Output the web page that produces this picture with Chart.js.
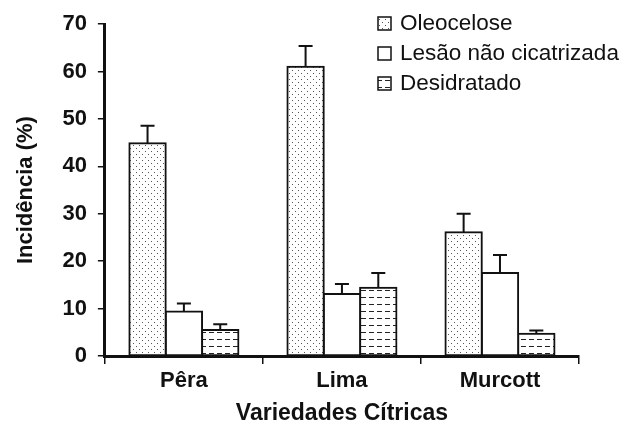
<!DOCTYPE html>
<html>
<head>
<meta charset="utf-8">
<script src="https://cdn.jsdelivr.net/npm/chart.js@4.4.1/dist/chart.umd.min.js"></script>
<style>
  html, body { margin: 0; padding: 0; background: #fff; }
  #wrap { width: 623px; height: 429px; position: relative; }
</style>
</head>
<body>
<div id="wrap"><canvas id="chart"></canvas></div>
<script>
// dados
const variedades = ['Pêra', 'Lima', 'Murcott'];
const rotulos = ['Oleocelose', 'Lesão não cicatrizada', 'Desidratado'];
const oleocelose = [44.9, 61.0, 26.1];
const lesao = [9.4, 13.1, 17.5];
const desidratado = [5.5, 14.4, 4.7];
// desvio (só a parte de cima)
const errOleocelose = [3.7, 4.4, 3.9];
const errLesao = [1.7, 2.1, 3.8];
const errDesidratado = [1.2, 3.1, 0.7];
const yTicks = [0, 10, 20, 30, 40, 50, 60, 70];

const FONT = "'Liberation Sans', Arial, sans-serif";

function makePattern(kind) {
    const c = document.createElement('canvas');
    const ctx = c.getContext('2d');
    if (kind === 'dots') {
        c.width = 6; c.height = 6;
        ctx.fillStyle = '#fff';
        ctx.fillRect(0, 0, 6, 6);
        ctx.fillStyle = '#555';
        ctx.fillRect(1, 1, 1, 1);
        ctx.fillRect(4, 4, 1, 1);
    } else if (kind === 'dash') {
        c.width = 8; c.height = 7;
        ctx.fillStyle = '#fff';
        ctx.fillRect(0, 0, 8, 7);
        ctx.fillStyle = '#222';
        ctx.fillRect(1, 3, 5, 1);
    } else {
        c.width = 4; c.height = 4;
        ctx.fillStyle = '#fff';
        ctx.fillRect(0, 0, 4, 4);
    }
    return ctx.createPattern(c, 'repeat');
}

const fills = [makePattern('dots'), makePattern('plain'), makePattern('dash')];
const erros = [errOleocelose, errLesao, errDesidratado];

// barras de erro (só para cima)
const errorBars = {
    id: 'errorBars',
    afterDatasetsDraw(chart) {
        const ctx = chart.ctx;
        const yScale = chart.scales.y;
        ctx.save();
        ctx.strokeStyle = '#111';
        ctx.lineWidth = 2;
        chart.data.datasets.forEach((ds, i) => {
            const meta = chart.getDatasetMeta(i);
            meta.data.forEach((bar, j) => {
                const topVal = ds.data[j] + erros[i][j];
                const yTop = yScale.getPixelForValue(topVal);
                ctx.beginPath();
                ctx.moveTo(bar.x, bar.y);
                ctx.lineTo(bar.x, yTop);
                ctx.moveTo(bar.x - 7, yTop);
                ctx.lineTo(bar.x + 7, yTop);
                ctx.stroke();
            });
        });
        ctx.restore();
    }
};

// legenda desenhada dentro da área do gráfico
const legendaInterna = {
    id: 'legendaInterna',
    afterDraw(chart) {
        const ctx = chart.ctx;
        ctx.save();
        ctx.font = '22.5px ' + FONT;
        ctx.textBaseline = 'middle';
        chart.data.datasets.forEach((ds, i) => {
            const cy = 23 + i * 30;
            ctx.fillStyle = ds.backgroundColor;
            ctx.fillRect(378, cy - 6, 13, 13);
            ctx.strokeStyle = '#111';
            ctx.lineWidth = 1.5;
            ctx.strokeRect(378, cy - 6, 13, 13);
            ctx.fillStyle = '#111';
            ctx.fillText(ds.label, 400, cy + 1);
        });
        ctx.restore();
    }
};

const datasets = [oleocelose, lesao, desidratado].map((vals, i) => ({
    label: rotulos[i],
    data: vals,
    backgroundColor: fills[i],
    borderColor: '#111',
    borderWidth: 2,
    borderSkipped: false,
    inflateAmount: 1,
    categoryPercentage: 0.69,
    barPercentage: 1.0
}));

new Chart(document.getElementById('chart'), {
    type: 'bar',
    data: { labels: variedades, datasets: datasets },
    options: {
        responsive: true,
        maintainAspectRatio: false,
        animation: false,
        layout: { padding: { top: 21, right: 44, left: 13, bottom: 2 } },
        plugins: {
            legend: { display: false },
            tooltip: { enabled: false }
        },
        scales: {
            x: {
                grid: {
                    offset: true,
                    drawOnChartArea: false,
                    drawTicks: true,
                    tickLength: 8,
                    color: '#111',
                    lineWidth: 1.5
                },
                border: { display: true, color: '#111', width: 3 },
                ticks: {
                    color: '#111',
                    padding: 4,
                    font: { family: FONT, size: 22, weight: 'bold' }
                },
                title: {
                    display: true,
                    text: 'Variedades Cítricas',
                    color: '#111',
                    padding: { top: 1, bottom: 0 },
                    font: { family: FONT, size: 23, weight: 'bold' }
                }
            },
            y: {
                min: 0,
                max: 70,
                afterBuildTicks(axis) {
                    axis.ticks = yTicks.map(v => ({ value: v }));
                },
                grid: {
                    drawOnChartArea: false,
                    drawTicks: true,
                    tickLength: 7,
                    color: '#111',
                    lineWidth: 1.5
                },
                border: { display: true, color: '#111', width: 3 },
                ticks: {
                    color: '#111',
                    padding: 11,
                    font: { family: FONT, size: 22, weight: 'bold' }
                },
                title: {
                    display: true,
                    text: 'Incidência (%)',
                    color: '#111',
                    padding: { top: 0, bottom: 12 },
                    font: { family: FONT, size: 22, weight: 'bold' }
                }
            }
        }
    },
    plugins: [errorBars, legendaInterna]
});
</script>
</body>
</html>
